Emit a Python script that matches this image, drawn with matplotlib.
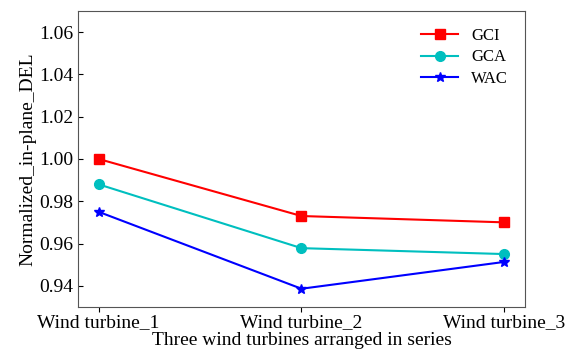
import matplotlib.pyplot as plt

plt.rcParams['font.family'] = ['Liberation Serif', 'DejaVu Serif']

turbines = ['Wind turbine_1', 'Wind turbine_2', 'Wind turbine_3']
gci = [1.000, 0.973, 0.970]
gca = [0.988, 0.9578, 0.955]
wac = [0.975, 0.9386, 0.9513]

fig = plt.figure(figsize=(5.71, 3.54), dpi=100)
ax = fig.add_axes([0.137, 0.133, 0.782, 0.836])

x = range(len(turbines))
ax.plot(x, gci, color='red', marker='s', markersize=7, lw=1.5, label='GCI')
ax.plot(x, gca, color='c', marker='o', markersize=7, lw=1.5, label='GCA')
ax.plot(x, wac, color='blue', marker='*', markersize=7, lw=1.5, label='WAC')

ax.set_xlim(-0.1, 2.1)
ax.set_ylim(0.93, 1.07)
ax.set_yticks([0.94, 0.96, 0.98, 1.00, 1.02, 1.04, 1.06])
ax.set_yticklabels(['0.94', '0.96', '0.98', '1.00', '1.02', '1.04', '1.06'])
ax.set_xticks(list(x))
ax.set_xticklabels(turbines)
ax.tick_params(direction='in', labelsize=14)
ax.tick_params(axis='x', direction='out', pad=2)
for s in ax.spines.values():
    s.set_color('#555555')

ax.set_xlabel('Three wind turbines arranged in series', fontsize=14, labelpad=0)
ax.set_ylabel('Normalized_in-plane_DEL', fontsize=14, labelpad=2)
ax.legend(frameon=False, fontsize=12, loc='upper right', borderaxespad=0.5,
          labelspacing=0.35, handlelength=2.2, borderpad=0.5)

fig.savefig('out.png', dpi=100)
